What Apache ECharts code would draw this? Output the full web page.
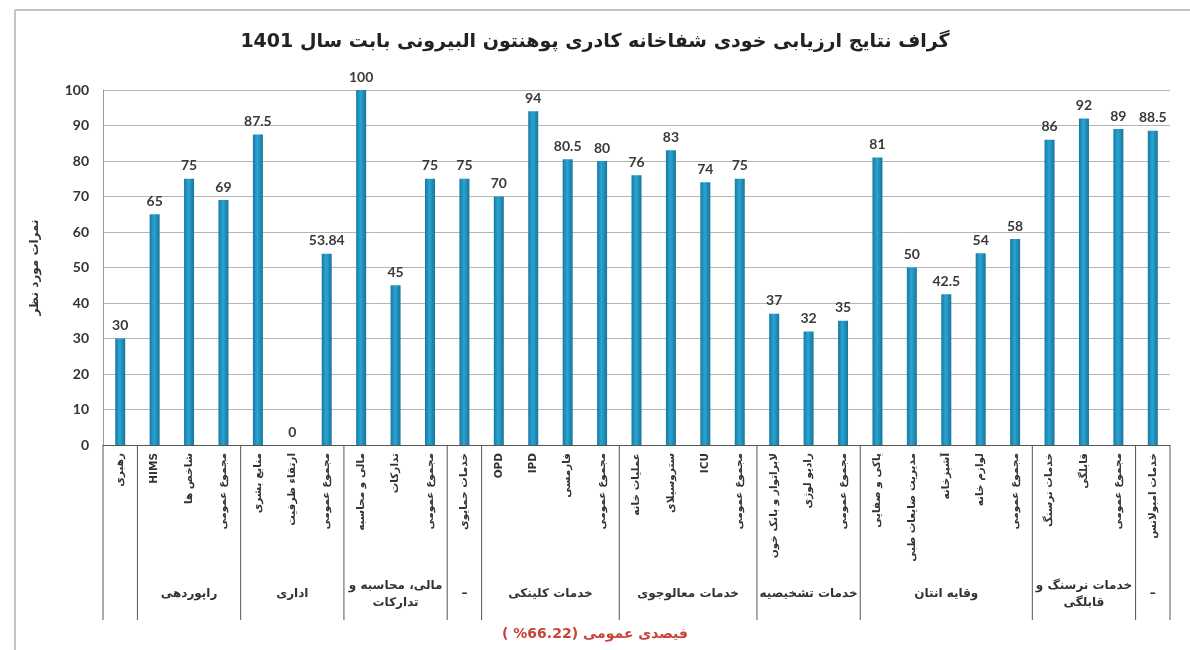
<!DOCTYPE html>
<html>
<head>
<meta charset="utf-8">
<script src="https://cdn.jsdelivr.net/npm/echarts@6/dist/echarts.min.js"></script>
<style>
  html, body { margin:0; padding:0; background:#fff; }
  #chart { width:1190px; height:650px; }
</style>
</head>
<body>
<div id="chart"></div>
<script>
// categories (left to right) and their scores
var categories = [
  'رهبری',
  'HIMS', 'شاخص ها', 'مجموع عمومی',
  'منابع بشری', 'ارتقاء ظرفیت', 'مجموع عمومی',
  'مالی و محاسبه', 'تدارکات', 'مجموع عمومی',
  'خدمات حمایوی',
  'OPD', 'IPD', 'فارمسی', 'مجموع عمومی',
  'عملیات خانه', 'ستروسیلای', 'ICU', 'مجموع عمومی',
  'لابراتوار و بانک خون', 'رادیو لوژی', 'مجموع عمومی',
  'پاکی و صفایی', 'مدیریت ضایعات طبی', 'آشپزخانه', 'لوازم خانه', 'مجموع عمومی',
  'خدمات نرسنگ', 'قابلگی', 'مجموع عمومی',
  'خدمات امبولانس'
];
var scores = [
  30,
  65, 75, 69,
  87.5, 0, 53.84,
  100, 45, 75,
  75,
  70, 94, 80.5, 80,
  76, 83, 74, 75,
  37, 32, 35,
  81, 50, 42.5, 54, 58,
  86, 92, 89,
  88.5
];
// groups under the category labels
var groupNames = ['', 'راپوردهی', 'اداری', 'مالی، محاسبه و\nتدارکات', '–', 'خدمات کلینکی',
  'خدمات معالوجوی', 'خدمات تشخیصیه', 'وقایه انتان', 'خدمات نرسنگ و\nقابلگی', '–'];
var groupSizes = [1, 3, 3, 3, 1, 4, 4, 3, 5, 3, 1];
var yMin = 0, yMax = 100, yStep = 10;

var titleText = 'گراف نتایج ارزیابی خودی شفاخانه کادری پوهنتون البیرونی بابت سال 1401';
var footText = 'فیصدی عمومی (66.22% )';
var yName = 'نمرات مورد نظر';

var font = "Lato, 'DejaVu Sans', sans-serif";
var arabicFont = "'DejaVu Sans', sans-serif";

var chart = echarts.init(document.getElementById('chart'));
chart.setOption({
  backgroundColor:'#fff',
  animation:false,
  title:[{
    text:titleText, left:'center', top:28,
    textStyle:{fontFamily:arabicFont, fontSize:19, fontWeight:'bold', color:'#222'}
  },{
    text:footText, left:'center', top:622,
    textStyle:{fontFamily:arabicFont, fontSize:14, fontWeight:'bold', color:'#c8433a'}
  }],
  grid:{left:103, right:20, top:90, bottom:205, containLabel:false},
  xAxis:{
    type:'category',
    data:categories,
    axisLine:{show:true, lineStyle:{color:'#555', width:1}},
    axisTick:{show:false},
    splitLine:{show:false},
    axisLabel:{
      rotate:90, interval:0, margin:8,
      fontFamily:arabicFont, fontSize:10.5, fontWeight:'bold', color:'#333'
    }
  },
  yAxis:{
    type:'value', min:yMin, max:yMax, interval:yStep,
    name:yName, nameLocation:'middle', nameRotate:90, nameGap:62,
    nameTextStyle:{fontFamily:arabicFont, fontSize:12, fontWeight:'bold', color:'#333'},
    axisLine:{show:true, lineStyle:{color:'#9a9a9a'}},
    axisTick:{show:false},
    axisLabel:{fontFamily:font, fontSize:14, fontWeight:'bold', color:'#333', margin:14},
    splitLine:{lineStyle:{color:'#b5b5b5', width:1}}
  },
  series:[{
    type:'bar',
    data:scores,
    barWidth:10,
    itemStyle:{
      color:new echarts.graphic.LinearGradient(0, 0, 1, 0, [
        {offset:0, color:'#167aa3'},
        {offset:0.45, color:'#2ba3d2'},
        {offset:1, color:'#157599'}
      ])
    },
    label:{
      show:true, position:'top', distance:6,
      fontFamily:font, fontSize:14, fontWeight:'bold', color:'#3a3a3a'
    }
  }]
});

// table lines and group names under the axis
var c0 = chart.convertToPixel({xAxisIndex:0}, 0);
var c1 = chart.convertToPixel({xAxisIndex:0}, 1);
var band = c1 - c0;
var axisY = chart.convertToPixel({yAxisIndex:0}, 0);
var elements = [];
var start = 0;
for (var g = 0; g < groupSizes.length; g++) {
  var x0 = chart.convertToPixel({xAxisIndex:0}, start) - band / 2;
  var x1 = chart.convertToPixel({xAxisIndex:0}, start + groupSizes[g] - 1) + band / 2;
  if (g === 0) {
    elements.push({type:'line', shape:{x1:x0, y1:axisY, x2:x0, y2:620}, style:{stroke:'#555', lineWidth:1}});
  }
  elements.push({type:'line', shape:{x1:x1, y1:axisY, x2:x1, y2:620}, style:{stroke:'#555', lineWidth:1}});
  if (groupNames[g]) {
    elements.push({
      type:'text', x:(x0 + x1) / 2, y:594,
      style:{text:groupNames[g], align:'center', verticalAlign:'middle',
        font:'bold 12px ' + arabicFont, fill:'#333', lineHeight:17}
    });
  }
  start += groupSizes[g];
}
// frame of the sheet
elements.push({type:'line', shape:{x1:15, y1:10, x2:1190, y2:10}, style:{stroke:'#a9b3b8', lineWidth:1.5}});
elements.push({type:'line', shape:{x1:15, y1:10, x2:15, y2:650}, style:{stroke:'#a9b3b8', lineWidth:1.5}});
chart.setOption({graphic:{elements:elements}});
</script>
</body>
</html>
